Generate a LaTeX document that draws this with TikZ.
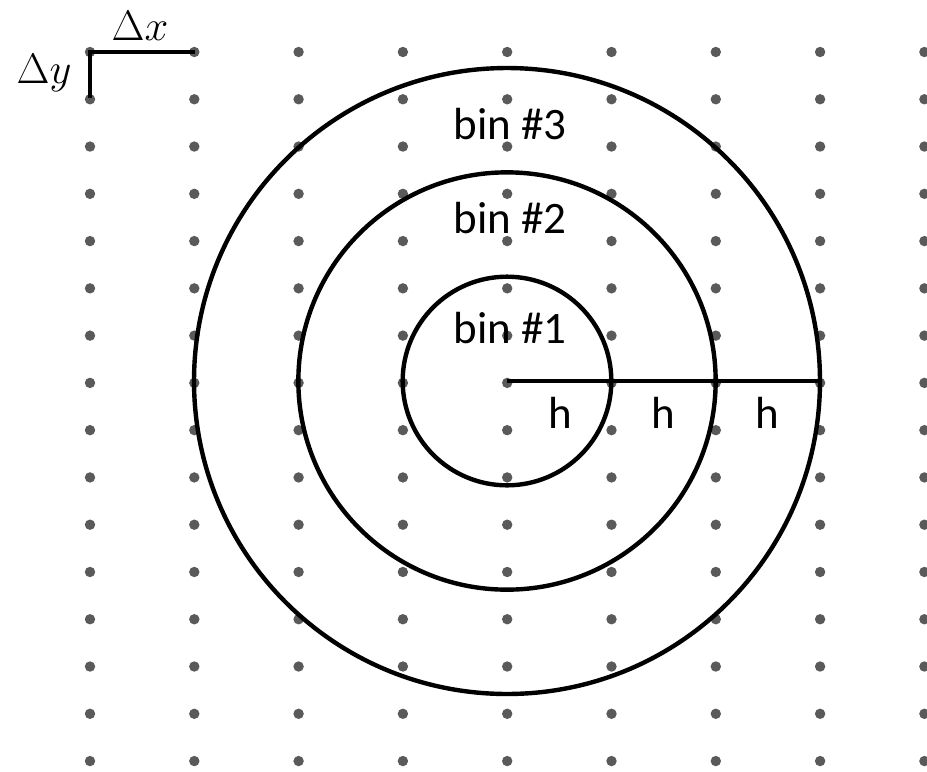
\documentclass[tikz,border=0pt]{standalone}
\usepackage{fontspec}
\setsansfont{Carlito}
\usetikzlibrary{positioning}

\definecolor{dotgray}{HTML}{5A5A5A}
\newcommand{\biglabel}[1]{\scalebox{1.22}{$#1$}}

\begin{document}
\begin{tikzpicture}[x=0.025cm, y=-0.025cm,
    ring/.style={line width=0.11cm, black},
    bar/.style={line width=0.11cm, black, line cap=butt},
    binlabel/.style={font=\sffamily\fontsize{32}{38}\selectfont, inner sep=0pt},
    hlabel/.style={font=\sffamily\fontsize{32}{38}\selectfont, inner sep=0pt},
    deltalabel/.style={font=\fontsize{24.88}{30}\selectfont, inner sep=0pt}]

    \useasboundingbox (0,0) rectangle (927,771);

    % Sampling grid
    \foreach \i in {0,...,8} {
      \foreach \j in {0,...,15} {
        \fill[dotgray] ({90+104.3*\i},{52+47.27*\j}) circle (0.13cm);
      }
    }

    % Grid spacing marker
    \coordinate (corner) at (90,52);
    \coordinate (xend) at (195,52);
    \coordinate (yend) at (90,98);
    \draw[bar] (yend) -- (corner) -- (xend);
    \node[deltalabel] (dx) at (140,26) {\biglabel{\Delta x}};
    \node[deltalabel] (dy) at (44,73) {\biglabel{\Delta y}};

    % Radial bins
    \coordinate (center) at (507,381);
    \draw[ring] (center) circle (2.6075cm);
    \draw[ring] (center) circle (5.215cm);
    \draw[ring] (center) circle (7.8225cm);
    \coordinate (rimend) at (821,381);
    \draw[bar] (center) -- (rimend);

    \node[binlabel] (bin3) at (510,124) {bin \#3};
    \node[binlabel] (bin2) at (510,218) {bin \#2};
    \node[binlabel] (bin1) at (510,328) {bin \#1};

    \node[hlabel] (h1) at (560,413) {h};
    \node[hlabel] (h2) at (663,413) {h};
    \node[hlabel] (h3) at (767,413) {h};

\end{tikzpicture}
\end{document}
